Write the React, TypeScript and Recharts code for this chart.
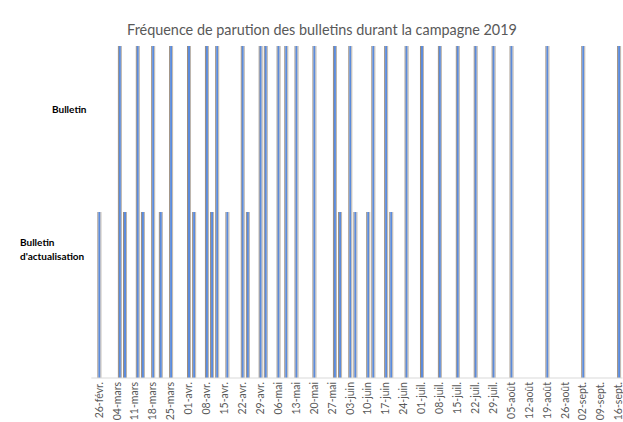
import React from "react";
import { ComposedChart, Bar, XAxis, YAxis } from "recharts";

// jours de parution, campagne 2019
const bulletinDates = [
  "2019-03-05", "2019-03-12", "2019-03-18", "2019-03-25", "2019-04-01",
  "2019-04-08", "2019-04-12", "2019-04-22", "2019-04-29", "2019-05-01",
  "2019-05-06", "2019-05-09", "2019-05-13", "2019-05-20", "2019-05-28",
  "2019-06-03", "2019-06-12", "2019-06-17", "2019-06-25", "2019-07-01",
  "2019-07-08", "2019-07-15", "2019-07-22", "2019-07-29", "2019-08-05",
  "2019-08-19", "2019-09-02", "2019-09-16",
];
const actualisationDates = [
  "2019-02-25", "2019-03-07", "2019-03-14", "2019-03-21", "2019-04-03",
  "2019-04-10", "2019-04-16", "2019-04-24", "2019-05-30", "2019-06-05",
  "2019-06-10", "2019-06-19",
];
const tickLabels = [
  "26-févr.", "04-mars", "11-mars", "18-mars", "25-mars", "01-avr.",
  "08-avr.", "15-avr.", "22-avr.", "29-avr.", "06-mai", "13-mai",
  "20-mai", "27-mai", "03-juin", "10-juin", "17-juin", "24-juin",
  "01-juil.", "08-juil.", "15-juil.", "22-juil.", "29-juil.", "05-août",
  "12-août", "19-août", "26-août", "02-sept.", "09-sept.", "16-sept.",
];
const BULLETIN = 2;
const ACTUALISATION = 1;

const START = Date.UTC(2019, 1, 25);
const toDay = (s: string) => {
  const [y, m, d] = s.split("-").map(Number);
  return Math.round((Date.UTC(y, m - 1, d) - START) / 86400000);
};

const data = [
  ...bulletinDates.map((d) => ({ jour: toDay(d), niveau: BULLETIN })),
  ...actualisationDates.map((d) => ({ jour: toDay(d), niveau: ACTUALISATION })),
].sort((a, b) => a.jour - b.jour);

const ticks = tickLabels.map((_, i) => i * 7);

const FONT = "Lato, 'Open Sans', sans-serif";

const AxisTick = (props: any) => {
  const { x, y, payload } = props;
  const ty = y + 4;
  return (
    <text
      x={x}
      y={ty}
      transform={`rotate(-90 ${x} ${ty})`}
      textAnchor="end"
      dy="0.35em"
      fontSize={10.5}
      fill="#595959"
      fontFamily={FONT}
    >
      {tickLabels[Math.round(payload.value / 7)]}
    </text>
  );
};

const BarShape = (props: any) => {
  const { x, y, width, height } = props;
  if (!height || height <= 0) return null;
  const cx = x + width / 2;
  return (
    <g>
      <rect x={cx - 2} y={y} width={1} height={height} fill="#9A8B7C" />
      <rect x={cx - 1} y={y} width={2} height={height} fill="#5B8BDB" />
      <rect x={cx + 1} y={y} width={1} height={height} fill="#BDB5AC" />
    </g>
  );
};

export default function App() {
  return (
    <div
      style={{
        position: "absolute",
        left: 0,
        top: 0,
        width: 623,
        height: 422,
        background: "#fff",
        overflow: "hidden",
        fontFamily: FONT,
      }}
    >
      <div
        style={{
          position: "absolute",
          left: 322,
          top: 21,
          transform: "translateX(-50%)",
          whiteSpace: "nowrap",
          fontSize: 14.4,
          color: "#595959",
        }}
      >
        Fréquence de parution des bulletins durant la campagne 2019
      </div>
      <div
        style={{
          position: "absolute",
          left: 52,
          top: 103,
          fontSize: 10,
          fontWeight: 700,
          color: "#000",
        }}
      >
        Bulletin
      </div>
      <div
        style={{
          position: "absolute",
          left: 20,
          top: 235,
          fontSize: 10,
          lineHeight: "14px",
          fontWeight: 700,
          color: "#000",
        }}
      >
        Bulletin
        <br />
        d'actualisation
      </div>
      <ComposedChart
        width={623}
        height={422}
        data={data}
        margin={{ top: 46, right: 0.5, bottom: 0, left: 91.3 }}
      >
        <XAxis
          dataKey="jour"
          type="number"
          domain={[-3, 204.5]}
          ticks={ticks}
          interval={0}
          allowDataOverflow
          height={44}
          axisLine={{ stroke: "#D9D9D9" }}
          tickLine={false}
          tickSize={0}
          tickMargin={0}
          tick={<AxisTick />}
        />
        <YAxis hide domain={[0, 2]} width={0} />
        <Bar
          dataKey="niveau"
          barSize={4}
          shape={<BarShape />}
          isAnimationActive={false}
        />
      </ComposedChart>
    </div>
  );
}
